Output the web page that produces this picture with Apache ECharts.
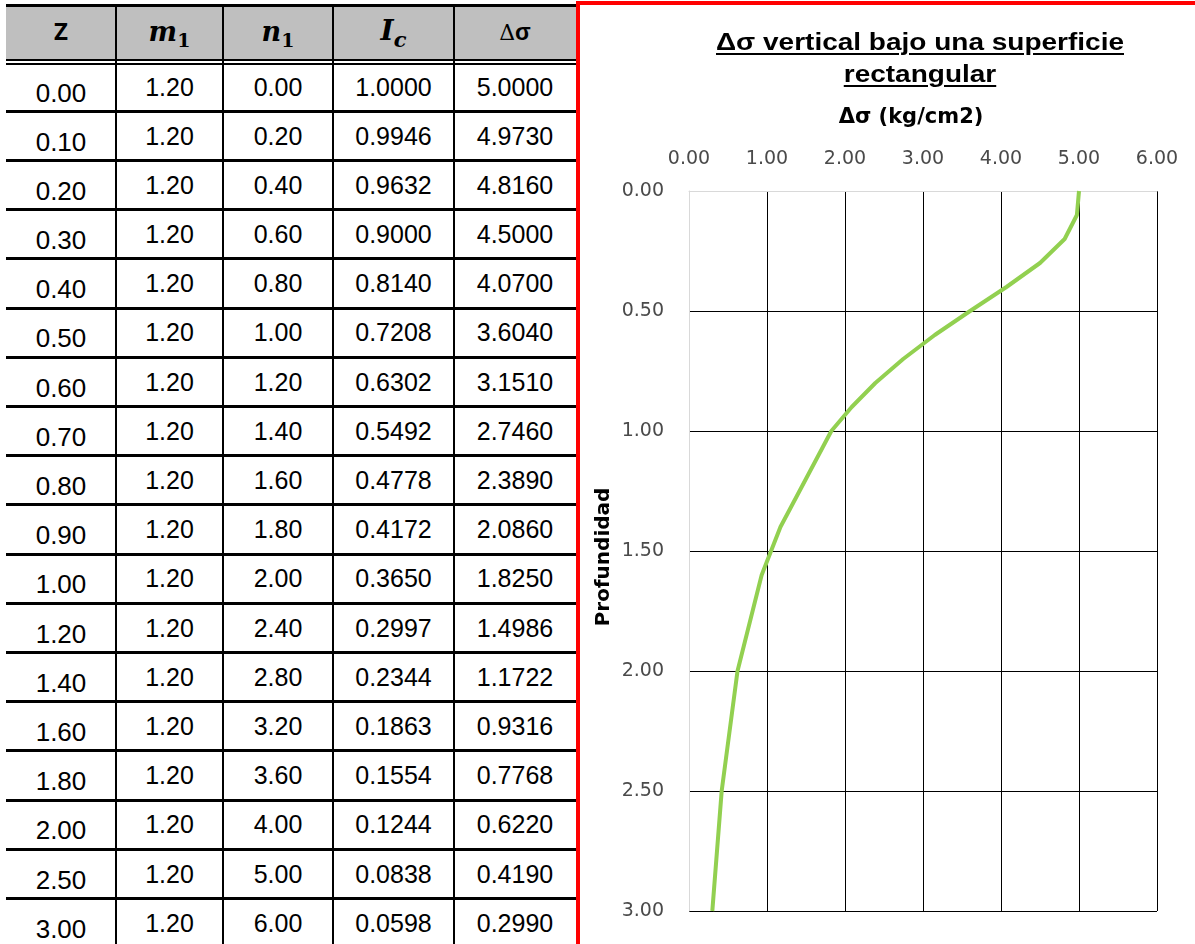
<!DOCTYPE html>
<html>
<head>
<meta charset="utf-8">
<script src="https://cdn.jsdelivr.net/npm/echarts@6/dist/echarts.min.js"></script>
<style>
  html, body { margin: 0; padding: 0; background: #fff; }
  body { width: 1195px; height: 944px; position: relative; overflow: hidden; }
  #chart { position: absolute; left: 0; top: 0; width: 1195px; height: 944px; }
  #frame { position: absolute; left: 576px; top: 1px; width: 700px; height: 1000px;
           border-left: 4px solid #ff0000; border-top: 4px solid #ff0000; box-sizing: border-box; pointer-events: none; }
  #table { position: absolute; left: 0; top: 0; width: 576px; height: 944px; background: #fff; }
  .cell { position: absolute; text-align: center; font-family: "Liberation Sans", Arial, sans-serif; color: #000; line-height: 1; white-space: nowrap; }
  .hline { position: absolute; background: #000; }
  .vline { position: absolute; background: #000; width: 2px; }
  #title { position: absolute; left: 600px; width: 640px; top: 26px; text-align: center;
           font-family: "Liberation Sans", Arial, sans-serif; font-weight: bold; font-size: 23px; line-height: 32px;
           color: #000; transform-origin: 320px 0; }
  #title span { display: inline-block; text-decoration: underline; text-decoration-thickness: 2px; text-underline-offset: 3px; }
  .hdr { position: absolute; text-align: center; line-height: 1; white-space: nowrap; color: #000; }
</style>
</head>
<body>
<div id="chart"></div>
<div id="table"></div>
<div id="title"><span id="t1">Δσ vertical bajo una superficie</span><br><span id="t2">rectangular</span></div>
<div id="frame"></div>
<script>
// ---- data ----
var zValues  = [0.00, 0.10, 0.20, 0.30, 0.40, 0.50, 0.60, 0.70, 0.80, 0.90, 1.00, 1.20, 1.40, 1.60, 1.80, 2.00, 2.50, 3.00];
var m1Values = [1.20, 1.20, 1.20, 1.20, 1.20, 1.20, 1.20, 1.20, 1.20, 1.20, 1.20, 1.20, 1.20, 1.20, 1.20, 1.20, 1.20, 1.20];
var n1Values = [0.00, 0.20, 0.40, 0.60, 0.80, 1.00, 1.20, 1.40, 1.60, 1.80, 2.00, 2.40, 2.80, 3.20, 3.60, 4.00, 5.00, 6.00];
var icValues = [1.0000, 0.9946, 0.9632, 0.9000, 0.8140, 0.7208, 0.6302, 0.5492, 0.4778, 0.4172, 0.3650, 0.2997, 0.2344, 0.1863, 0.1554, 0.1244, 0.0838, 0.0598];
var dsValues = [5.0000, 4.9730, 4.8160, 4.5000, 4.0700, 3.6040, 3.1510, 2.7460, 2.3890, 2.0860, 1.8250, 1.4986, 1.1722, 0.9316, 0.7768, 0.6220, 0.4190, 0.2990];
var xTicks = { min: 0, max: 6, interval: 1 };
var yTicks = { min: 0, max: 3, interval: 0.5 };

// ---- title width fit (the reference title is drawn wide) ----
(function () {
  var t = document.getElementById('title');
  var w = document.getElementById('t1').getBoundingClientRect().width;
  if (w > 0) t.style.transform = 'scaleX(' + (408 / w) + ')';
})();

// ---- table (HTML) ----
var tbl = document.getElementById('table');
var colEdges = [6, 116, 223, 333, 454, 576];
function add(el, css, html) {
  var d = document.createElement('div');
  d.className = el;
  for (var k in css) d.style[k] = css[k];
  if (html !== undefined) d.innerHTML = html;
  tbl.appendChild(d);
  return d;
}
add('hline', { left: '6px', top: '4px', width: '570px', height: '56px', background: '#bfbfbf' });
add('hline', { left: '6px', top: '4px', width: '570px', height: '3px' });
add('hline', { left: '6px', top: '59px', width: '570px', height: '2px' });
add('hline', { left: '6px', top: '63px', width: '570px', height: '2px' });
var rowLineTops = [];
for (var i = 0; i < zValues.length - 1; i++) {
  var t = 111.3 + i * 49.2;
  rowLineTops.push(t);
  add('hline', { left: '6px', top: (t - 1.5) + 'px', width: '570px', height: '3px' });
}
for (var c = 1; c < colEdges.length - 1; c++) {
  add('vline', { left: (colEdges[c] - 1) + 'px', top: '4px', height: '940px' });
}
var serifB = "font-family:'DejaVu Serif',serif;font-weight:bold;";
var headers = [
  '<span style="font-family:\'Open Sans\',sans-serif;font-weight:bold;font-size:24px">Z</span>',
  '<span style="' + serifB + 'font-style:italic;font-size:27px">m</span><span style="' + serifB + 'font-size:19px;position:relative;top:6px">1</span>',
  '<span style="' + serifB + 'font-style:italic;font-size:27px">n</span><span style="' + serifB + 'font-size:19px;position:relative;top:6px">1</span>',
  '<span style="' + serifB + 'font-style:italic;font-size:28px">I</span><span style="' + serifB + 'font-style:italic;font-size:21px;position:relative;top:7px">c</span>',
  '<span style="font-family:\'DejaVu Serif\',serif;font-size:22px">Δ</span><span style="font-family:\'Liberation Sans\',sans-serif;font-weight:bold;font-size:23px">σ</span>'
];
var hdrTops = [19, 18, 18, 17, 21];
for (var h = 0; h < headers.length; h++) {
  add('hdr', { left: colEdges[h] + 'px', width: (colEdges[h + 1] - colEdges[h]) + 'px', top: hdrTops[h] + 'px' }, headers[h]);
}
var cols = [zValues, m1Values, n1Values, icValues, dsValues];
var decs = [2, 2, 2, 4, 4];
for (var r = 0; r < zValues.length; r++) {
  var above = r === 0 ? 62.5 : rowLineTops[r - 1];
  for (var c2 = 0; c2 < cols.length; c2++) {
    var isZ = c2 === 0;
    var fs = isZ ? 26 : 25;
    var center = above + (isZ ? 31.5 : 26);
    add('cell', {
      left: colEdges[c2] + 'px',
      width: (colEdges[c2 + 1] - colEdges[c2]) + 'px',
      top: (center - fs * 0.55) + 'px',
      fontSize: fs + 'px'
    }, cols[c2][r].toFixed(decs[c2]));
  }
}

// ---- chart ----
var chart = echarts.init(document.getElementById('chart'), null, { renderer: 'canvas' });
var seriesData = dsValues.map(function (v, i) { return [v, zValues[i]]; });
var labelStyle = { color: '#4a4a4a', fontFamily: 'DejaVu Sans', fontSize: 19 };
chart.setOption({
  animation: false,
  grid: { left: 689, top: 191, width: 468, height: 720, containLabel: false },
  xAxis: {
    type: 'value', position: 'top',
    min: xTicks.min, max: xTicks.max, interval: xTicks.interval,
    name: 'Δσ (kg/cm2)', nameLocation: 'middle', nameGap: 63,
    nameTextStyle: { fontFamily: 'DejaVu Sans', fontWeight: 'bold', fontSize: 21, color: '#000', padding: [0, 24, 0, 0] },
    axisLine: { show: true, onZero: false, lineStyle: { color: '#d9d9d9', width: 1 } },
    axisTick: { show: false },
    axisLabel: Object.assign({ margin: 22, formatter: function (v) { return v.toFixed(2); } }, labelStyle),
    splitLine: { show: true, showMinLine: false, lineStyle: { color: '#000', width: 1 } }
  },
  yAxis: {
    type: 'value', inverse: true,
    min: yTicks.min, max: yTicks.max, interval: yTicks.interval,
    name: 'Profundidad', nameLocation: 'middle', nameGap: 75, nameRotate: 90,
    nameTextStyle: { fontFamily: 'DejaVu Sans', fontWeight: 'bold', fontSize: 20, color: '#000', padding: [0, 12, 0, 0] },
    axisLine: { show: true, onZero: false, lineStyle: { color: '#d9d9d9', width: 1 } },
    axisTick: { show: false },
    axisLabel: Object.assign({ margin: 25, formatter: function (v) { return v.toFixed(2); } }, labelStyle),
    splitLine: { show: true, showMinLine: false, lineStyle: { color: '#000', width: 1 } }
  },
  series: [{
    type: 'line',
    data: seriesData,
    showSymbol: false,
    symbol: 'none',
    smooth: false,
    lineStyle: { color: '#92D050', width: 4 },
    z: 5
  }]
});
</script>
</body>
</html>
